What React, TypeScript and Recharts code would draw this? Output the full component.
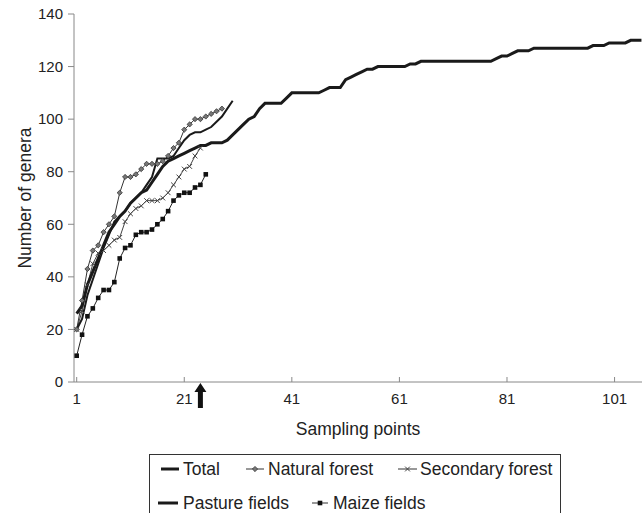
import React from "react";
import { LineChart, Line, XAxis, YAxis, Legend, ReferenceDot } from "recharts";

const FONT = "'Liberation Sans', Arial, sans-serif";

const xTicks = [1, 21, 41, 61, 81, 101];
const yTicks = [0, 20, 40, 60, 80, 100, 120, 140];
const arrowAt = 24;

// cumulative number of genera per sampling point
const total = [
  26, 29, 37, 42, 47, 52, 57, 60, 63, 65, 68, 70, 72, 73, 76, 79, 82, 84, 85, 86,
  87, 88, 89, 90, 90, 91, 91, 91, 92, 94, 96, 98, 100, 101, 104, 106, 106, 106, 106, 108,
  110, 110, 110, 110, 110, 110, 111, 112, 112, 112, 115, 116, 117, 118, 119, 119, 120, 120, 120, 120,
  120, 120, 121, 121, 122, 122, 122, 122, 122, 122, 122, 122, 122, 122, 122, 122, 122, 122, 123, 124,
  124, 125, 126, 126, 126, 127, 127, 127, 127, 127, 127, 127, 127, 127, 127, 127, 128, 128, 128, 129,
  129, 129, 129, 130, 130, 130,
];
const naturalForest = [
  20, 31, 43, 50, 52, 57, 60, 63, 72, 78, 78, 79, 81, 83, 83, 83, 84, 86, 89, 91,
  96, 98, 100, 100, 101, 102, 103, 104,
];
const secondaryForest = [
  20, 27, 37, 45, 49, 50, 52, 54, 55, 61, 64, 66, 67, 69, 69, 69, 70, 72, 75, 78,
  81, 82, 86, 89,
];
const pastureFields = [
  20, 24, 33, 39, 45, 51, 56, 61, 63, 65, 68, 70, 72, 75, 78, 85, 85, 85, 86, 89,
  92, 94, 95, 95, 96, 97, 99, 101, 104, 107,
];
const maizeFields = [
  10, 18, 25, 28, 32, 35, 35, 38, 47, 51, 52, 56, 57, 57, 58, 60, 62, 65, 69, 71,
  72, 72, 74, 75, 79,
];

const data = total.map((t, i) => ({
  point: i + 1,
  total: t,
  natural: naturalForest[i],
  secondary: secondaryForest[i],
  pasture: pastureFields[i],
  maize: maizeFields[i],
}));

const DiamondDot = (p: any) => {
  if (p.cx == null || p.cy == null || p.value == null) return <g key={`nd-${p.index}`} />;
  const s = 2.6;
  return (
    <path
      key={`nd-${p.index}`}
      d={`M${p.cx},${p.cy - s}L${p.cx + s},${p.cy}L${p.cx},${p.cy + s}L${p.cx - s},${p.cy}Z`}
      fill="#777"
      stroke="#333"
      strokeWidth={0.8}
    />
  );
};

const CrossDot = (p: any) => {
  if (p.cx == null || p.cy == null || p.value == null) return <g key={`sd-${p.index}`} />;
  const s = 2.4;
  return (
    <path
      key={`sd-${p.index}`}
      d={`M${p.cx - s},${p.cy - s}L${p.cx + s},${p.cy + s}M${p.cx + s},${p.cy - s}L${p.cx - s},${p.cy + s}`}
      stroke="#444"
      strokeWidth={1}
      fill="none"
    />
  );
};

const SquareDot = (p: any) => {
  if (p.cx == null || p.cy == null || p.value == null) return <g key={`md-${p.index}`} />;
  return <rect key={`md-${p.index}`} x={p.cx - 2.3} y={p.cy - 2.3} width={4.6} height={4.6} fill="#111" />;
};

const Arrow = (p: any) => {
  const { cx, cy } = p;
  return (
    <path
      d={`M${cx},${cy + 1}L${cx + 6},${cy + 10}L${cx + 2.5},${cy + 10}L${cx + 2.5},${cy + 26}L${cx - 2.5},${cy + 26}L${cx - 2.5},${cy + 10}L${cx - 6},${cy + 10}Z`}
      fill="#111"
    />
  );
};

const txt = { fontFamily: FONT, fontSize: 17.5, fill: "#222" };

const LegendBox = () => (
  <svg width={412} height={62} style={{ display: "block" }}>
    <rect x={0.5} y={0.5} width={411} height={90} fill="#fff" stroke="#333" />
    <line x1={12} y1={15} x2={30} y2={15} stroke="#1a1a1a" strokeWidth={3} />
    <text x={34} y={21} {...txt}>Total</text>
    <line x1={97} y1={15} x2={115} y2={15} stroke="#333" strokeWidth={1} />
    <DiamondDot cx={106} cy={15} value={1} index={0} />
    <text x={119} y={21} {...txt}>Natural forest</text>
    <line x1={249} y1={15} x2={268} y2={15} stroke="#333" strokeWidth={1} />
    <CrossDot cx={258.5} cy={15} value={1} index={0} />
    <text x={271} y={21} {...txt}>Secondary forest</text>
    <line x1={9} y1={49} x2={29} y2={49} stroke="#1a1a1a" strokeWidth={3} />
    <text x={34} y={55} {...txt}>Pasture fields</text>
    <line x1={163} y1={49} x2={179} y2={49} stroke="#333" strokeWidth={1} />
    <SquareDot cx={171} cy={49} value={1} index={0} />
    <text x={184} y={55} {...txt}>Maize fields</text>
  </svg>
);

export default function App() {
  return (
    <div style={{ position: "absolute", left: 0, top: 0, width: 644, height: 513, background: "#fff" }}>
      <LineChart width={644} height={513} data={data} margin={{ top: 14, right: 2, left: 0, bottom: 74 }}>
        <XAxis
          dataKey="point"
          type="number"
          domain={[0.5, 106.1]}
          ticks={xTicks}
          interval={0}
          height={57}
          tickSize={-5}
          tickMargin={16}
          axisLine={{ stroke: "#888" }}
          tickLine={{ stroke: "#888" }}
          tick={{ fontFamily: FONT, fontSize: 15, fill: "#222" }}
          label={{
            value: "Sampling points",
            position: "insideBottom",
            offset: 4,
            style: { fontFamily: FONT, fontSize: 17.5, fill: "#222" },
          }}
        />
        <YAxis
          domain={[0, 140]}
          ticks={yTicks}
          width={74}
          tickSize={6}
          tickMargin={5}
          axisLine={{ stroke: "#888" }}
          tickLine={{ stroke: "#888" }}
          tick={{ fontFamily: FONT, fontSize: 15, fill: "#222" }}
          label={{
            value: "Number of genera",
            angle: -90,
            position: "insideLeft",
            offset: 25,
            style: { fontFamily: FONT, fontSize: 17.5, fill: "#222", textAnchor: "middle" },
          }}
        />
        <Legend
          layout="horizontal"
          verticalAlign="middle"
          align="center"
          wrapperStyle={{ left: 149, top: 454, width: 412, height: 62 }}
          content={() => <LegendBox />}
        />
        <Line dataKey="maize" name="Maize fields" stroke="#222" strokeWidth={1} dot={SquareDot} isAnimationActive={false} />
        <Line dataKey="secondary" name="Secondary forest" stroke="#444" strokeWidth={1} dot={CrossDot} isAnimationActive={false} />
        <Line dataKey="natural" name="Natural forest" stroke="#333" strokeWidth={1} dot={DiamondDot} isAnimationActive={false} />
        <Line dataKey="pasture" name="Pasture fields" stroke="#1a1a1a" strokeWidth={2} dot={false} isAnimationActive={false} />
        <Line dataKey="total" name="Total" stroke="#1a1a1a" strokeWidth={3} dot={false} isAnimationActive={false} />
        <ReferenceDot x={arrowAt} y={0} r={0} ifOverflow="visible" shape={Arrow} />
      </LineChart>
    </div>
  );
}
